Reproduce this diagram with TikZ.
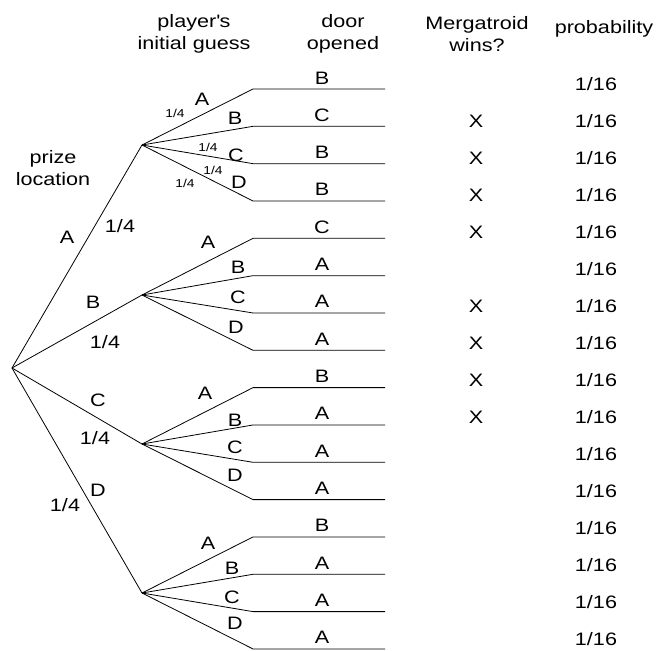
\documentclass[tikz,border=0pt]{standalone}
\usepackage{fontspec}
\setmainfont{Liberation Sans}[FakeStretch=1.2]
\usepackage{tikz}

\tikzset{
	txt/.style={font=\fontsize{18}{21.5}\selectfont, inner sep=0pt},
	small/.style={font=\fontsize{11.5}{13}\selectfont, inner sep=0pt},
	branch/.style={line width=0.8pt},
}

\begin{document}
\begin{tikzpicture}[x=1pt, y=-1pt]
		\useasboundingbox (0,0) rectangle (657,651);
		% column heads
		\node[txt, align=center] (hprize) at (53,168) {prize\\location};
		\node[txt, align=center] (hguess) at (194,34) {player\textquotesingle s\\initial guess};
		\node[txt, align=center] (hdoor) at (343,34) {door\\opened};
		\node[txt, align=center] (hwins) at (477,34) {Mergatroid\\wins?};
		\node[txt] (hprob) at (604,29) {probability};
		% prize location
		\coordinate (root) at (12,368);
		\coordinate (g0) at (142,145);
		\coordinate (g1) at (142,295);
		\coordinate (g2) at (142,444);
		\coordinate (g3) at (142,593);
		\draw[branch] (root) -- (g0);
		\draw[branch] (root) -- (g1);
		\draw[branch] (root) -- (g2);
		\draw[branch] (root) -- (g3);
		\node[txt] (prizeA) at (67,237) {A};
		\node[txt] (pA) at (120,226) {1/4};
		\node[txt] (prizeB) at (93,302) {B};
		\node[txt] (pB) at (105,342) {1/4};
		\node[txt] (prizeC) at (98,400) {C};
		\node[txt] (pC) at (95,438) {1/4};
		\node[txt] (prizeD) at (98,490) {D};
		\node[txt] (pD) at (65,505) {1/4};
		% initial guess
		\node[txt] (guessA0) at (202,99) {A};
		\node[txt] (guessB0) at (235,118) {B};
		\node[txt] (guessC0) at (236,155) {C};
		\node[txt] (guessD0) at (239,182) {D};
		\node[small] (qA0) at (175,113) {1/4};
		\node[small] (qC0) at (208,147) {1/4};
		\node[small] (qD0) at (213,170) {1/4};
		\node[small] (qE0) at (185,183) {1/4};
		\node[txt] (guessA1) at (208,242) {A};
		\node[txt] (guessB1) at (238,267) {B};
		\node[txt] (guessC1) at (238,297) {C};
		\node[txt] (guessD1) at (236,327) {D};
		\node[txt] (guessA2) at (205,393) {A};
		\node[txt] (guessB2) at (235,420) {B};
		\node[txt] (guessC2) at (235,447) {C};
		\node[txt] (guessD2) at (235,475) {D};
		\node[txt] (guessA3) at (208,543) {A};
		\node[txt] (guessB3) at (232,568) {B};
		\node[txt] (guessC3) at (232,597) {C};
		\node[txt] (guessD3) at (235,623) {D};
		% door opened, wins, probability
		\foreach \door/\win [count=\i from 0] in {B/0, C/1, B/1, B/1, C/1, A/0, A/1, A/1,
				B/1, A/1, A/0, A/0, B/0, A/0, A/0, A/0} {
			\pgfmathtruncatemacro{\g}{floor(\i/4)}
			\pgfmathsetmacro{\y}{89+37.33*\i}
			\coordinate (l\i) at (253,\y);
			\coordinate (e\i) at (385,\y);
			\draw[branch] (g\g) -- (l\i) -- (e\i);
			\node[txt, anchor=base] (door\i) at (322,\y-5) {\door};
			\node[txt, anchor=base] (prob\i) at (596,\y+1-0.3*\i) {1/16};
			\ifnum\win=1
				\node[txt, anchor=base] (win\i) at (476,\y+1-0.3*\i) {X};
			\fi
		}
	\end{tikzpicture}
\end{document}
